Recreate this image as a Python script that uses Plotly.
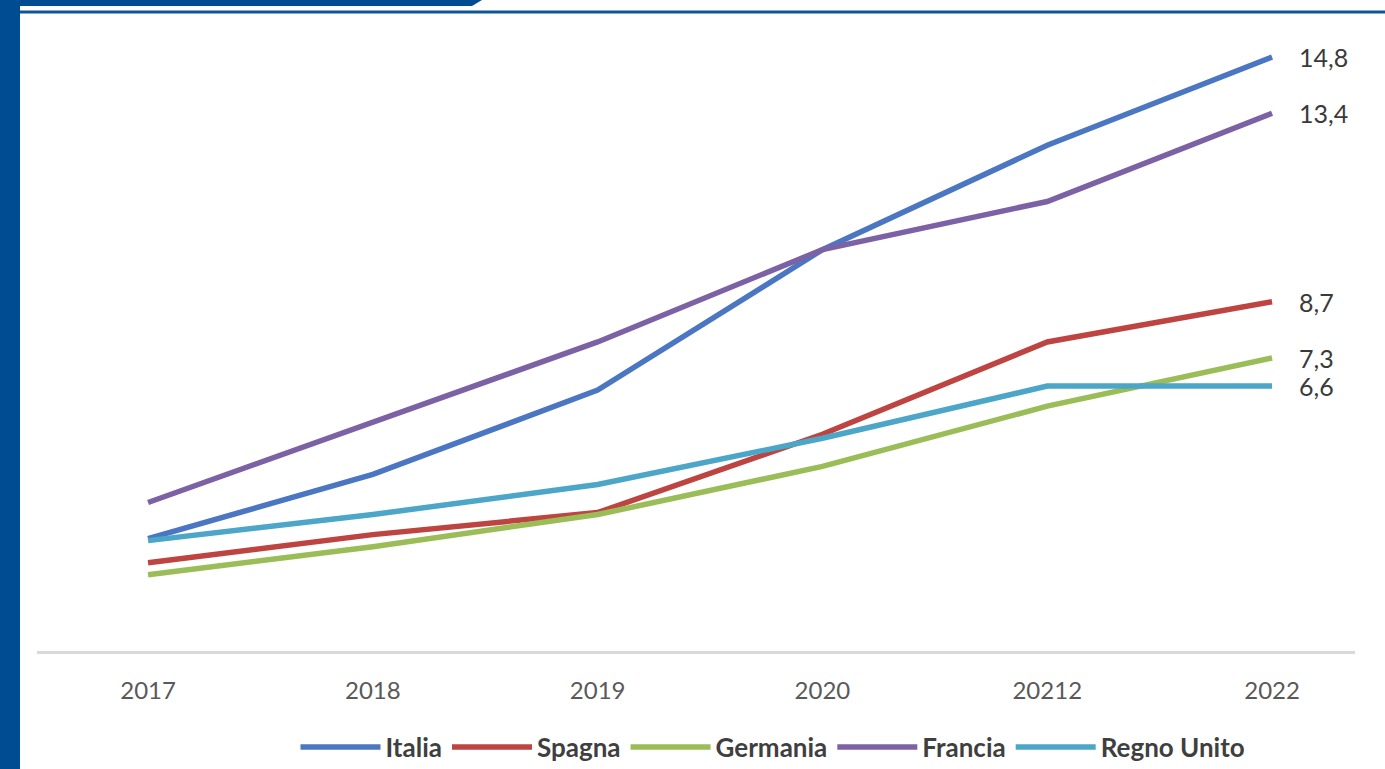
import plotly.graph_objects as go

categories = ["2017", "2018", "2019", "2020", "20212", "2022"]
italia = [2.8, 4.4, 6.5, 10.0, 12.6, 14.8]
spagna = [2.2, 2.9, 3.45, 5.4, 7.7, 8.7]
germania = [1.9, 2.6, 3.4, 4.6, 6.1, 7.3]
francia = [3.7, 5.7, 7.7, 10.0, 11.2, 13.4]
regno_unito = [2.75, 3.4, 4.15, 5.3, 6.6, 6.6]
end_labels = ["14,8", "8,7", "7,3", "13,4", "6,6"]

series = [
    ("Italia", italia, "#4a76c2"),
    ("Spagna", spagna, "#bd4440"),
    ("Germania", germania, "#9bbd58"),
    ("Francia", francia, "#7c62a4"),
    ("Regno Unito", regno_unito, "#4ba6c8"),
]

W, H = 1385, 769
L, R, T, B = 37, 30, 20, 118
pw, ph = W - L - R, H - T - B

def px(p):
    return (p - L) / pw

def py(q):
    return (H - B - q) / ph

fig = go.Figure()
for (name, vals, col) in series:
    fig.add_trace(go.Scatter(x=categories, y=vals, name=name, mode="lines",
                             line=dict(color=col, width=5.5)))

last_idx = len(categories) - 1
for (name, vals, col), lab in zip(series, end_labels):
    fig.add_annotation(x=last_idx, y=vals[-1], text=lab, showarrow=False,
                       xanchor="left", xshift=25, yshift=0,
                       font=dict(size=25, color="#3a3a3a", family="Lato"))

shapes = [
    dict(type="rect", xref="paper", yref="paper", x0=px(0), x1=px(20), y0=py(769), y1=py(0),
         fillcolor="#004c93", line=dict(width=0), layer="above"),
    dict(type="path", xref="paper", yref="paper",
         path=f"M {px(0)},{py(0)} L {px(482)},{py(0)} L {px(472)},{py(6)} L {px(0)},{py(6)} Z",
         fillcolor="#004c93", line=dict(width=0)),
    dict(type="line", xref="paper", yref="paper", x0=px(20), x1=px(1385), y0=py(12), y1=py(12),
         line=dict(color="#0d5596", width=3)),
]

fig.update_layout(
    width=W, height=H,
    margin=dict(l=L, r=R, t=T, b=B, autoexpand=False),
    paper_bgcolor="white", plot_bgcolor="white",
    showlegend=True,
    legend=dict(orientation="h", x=px(773), xanchor="center", y=py(747), yanchor="middle",
                font=dict(size=26, color="#3f3f3f", family="Lato", weight="bold"),
                itemwidth=80, tracegroupgap=0),
    xaxis=dict(type="category", range=[-0.494, 5.369], showgrid=False,
               showline=True, linecolor="#d9d9d9", linewidth=3, ticks="",
               tickfont=dict(size=24, color="#595959", family="Lato"), ticklabelstandoff=16),
    yaxis=dict(range=[0, (H - B - T) / ((651 - 57) / 14.8)], showgrid=False, showticklabels=False,
               zeroline=False, showline=False),
    shapes=shapes,
    font=dict(family="Lato"),
)

fig.write_html("out.html")
